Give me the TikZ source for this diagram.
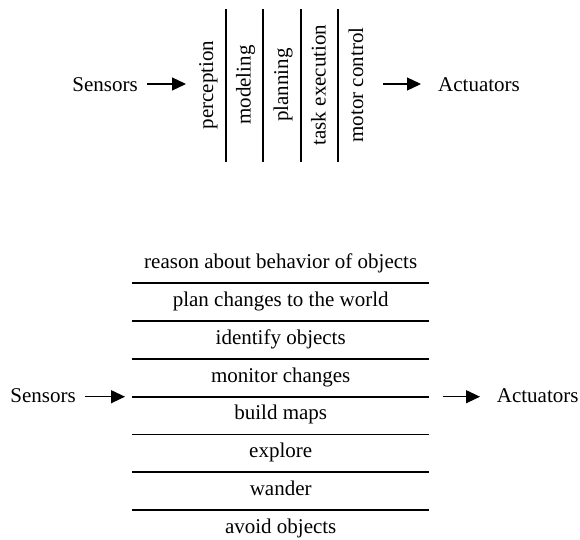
\documentclass[tikz,border=0pt]{standalone}
\usepackage{fontspec}
\setmainfont{Liberation Serif}
\usetikzlibrary{arrows.meta}
\begin{document}
\begin{tikzpicture}[x=1pt,y=-1pt,
  lbl/.style={inner sep=0pt, font=\fontsize{21}{25}\selectfont},
  layer/.style={line width=1.7pt},
  flow/.style={line width=1.3pt, -{Triangle[length=14pt,width=13pt]}}]
\useasboundingbox (0,0) rectangle (580,539);

% ---- horizontal decomposition: sequential functional modules ----
\node[lbl, anchor=base east] (sen1) at (138,91) {Sensors};
\node[lbl, anchor=base west] (act1) at (438,91) {Actuators};
\coordinate (in1a) at (147,84);
\coordinate (in1b) at (186,84);
\coordinate (out1a) at (383,84);
\coordinate (out1b) at (421,84);
\draw[flow] (in1a) -- (in1b);
\draw[flow] (out1a) -- (out1b);

\foreach \x in {225.7,263.3,301,338.3}
  \draw[layer] (\x,9) -- (\x,162);

\foreach \x/\t [count=\i] in {213/perception,250.5/modeling,288/planning,325.7/task execution,363.2/motor control}
  \node[lbl, anchor=base, rotate=90] (m\i) at (\x,85) {\t};

% ---- vertical decomposition: layered task-achieving behaviours ----
\node[lbl, anchor=base east] (sen2) at (76,402) {Sensors};
\node[lbl, anchor=base west] (act2) at (496.7,402) {Actuators};
\coordinate (in2a) at (85,396.7);
\coordinate (in2b) at (125,396.7);
\coordinate (out2a) at (442.7,396.7);
\coordinate (out2b) at (480,396.7);
\draw[flow] (in2a) -- (in2b);
\draw[flow] (out2a) -- (out2b);

\foreach \k in {0,...,6}
  \draw[layer] (132.3,283.3+\k*37.8) -- (429,283.3+\k*37.8);

\foreach \t [count=\i from 0] in {reason about behavior of objects,plan changes to the world,identify objects,monitor changes,build maps,explore,wander,avoid objects}
  \node[lbl, anchor=base] (b\i) at (280.7,268.6+\i*37.8) {\t};
\end{tikzpicture}
\end{document}
